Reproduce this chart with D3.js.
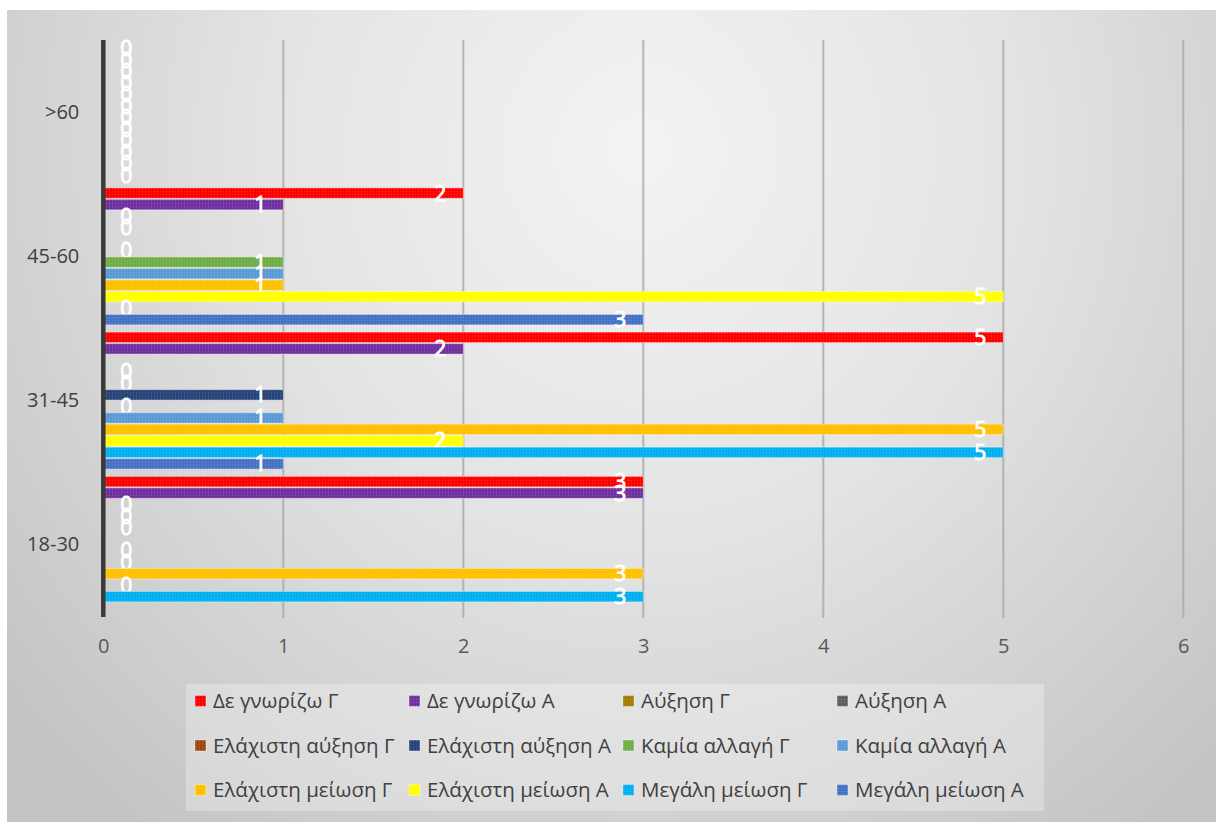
<!DOCTYPE html>
<html>
<head>
<meta charset="utf-8">
<script src="https://cdn.jsdelivr.net/npm/d3@7"></script>
<style>
  html, body { margin: 0; padding: 0; background: #ffffff; }
  svg { display: block; }
  text { font-family: "Open Sans", "Noto Sans", sans-serif; }
</style>
</head>
<body>
<svg id="chart" width="1216" height="822"></svg>
<script>
// Age groups, bottom to top on the chart
const categories = ["18-30", "31-45", "45-60", ">60"];

// Series, top to bottom inside each age group (also legend order)
const seriesNames = [
  "Δε γνωρίζω Γ", "Δε γνωρίζω Α",
  "Αύξηση Γ", "Αύξηση Α",
  "Ελάχιστη αύξηση Γ", "Ελάχιστη αύξηση Α",
  "Καμία αλλαγή Γ", "Καμία αλλαγή Α",
  "Ελάχιστη μείωση Γ", "Ελάχιστη μείωση Α",
  "Μεγάλη μείωση Γ", "Μεγάλη μείωση Α"
];

const seriesColors = [
  "#ff0000", "#7030a0",
  "#a07c00", "#5f5f5f",
  "#9e480e", "#264478",
  "#70ad47", "#5b9bd5",
  "#ffc000", "#ffff00",
  "#00b0f0", "#4472c4"
];

// Counts per series, in the order of `categories` (null = no entry)
const deGnorizoG       = [3, 5, 2, 0];
const deGnorizoA       = [3, 2, 1, 0];
const afxisiG          = [0, null, 0, 0];
const afxisiA          = [0, 0, 0, 0];
const elaxAfxisiG      = [0, 0, null, 0];
const elaxAfxisiA      = [null, 1, 0, 0];
const kamiaAllagiG     = [0, 0, 1, 0];
const kamiaAllagiA     = [0, 1, 1, 0];
const elaxMeiosiG      = [3, 5, 1, 0];
const elaxMeiosiA      = [0, 2, 5, 0];
const megaliMeiosiG    = [3, 5, 0, 0];
const megaliMeiosiA    = [null, 1, 3, 0];

const seriesValues = [
  deGnorizoG, deGnorizoA, afxisiG, afxisiA, elaxAfxisiG, elaxAfxisiA,
  kamiaAllagiG, kamiaAllagiA, elaxMeiosiG, elaxMeiosiA, megaliMeiosiG, megaliMeiosiA
];

const xTicks = [0, 1, 2, 3, 4, 5, 6];

const svg = d3.select("#chart");
const defs = svg.append("defs");

// Chart area background
const bg = defs.append("radialGradient")
  .attr("id", "bgGrad")
  .attr("gradientUnits", "userSpaceOnUse")
  .attr("cx", 640).attr("cy", 150).attr("r", 820)
  .attr("gradientTransform", "translate(640,150) scale(1,1.05) translate(-640,-150)");
bg.append("stop").attr("offset", "0").attr("stop-color", "#f3f3f3");
bg.append("stop").attr("offset", "0.45").attr("stop-color", "#e4e4e4");
bg.append("stop").attr("offset", "1").attr("stop-color", "#c4c4c4");

svg.append("rect")
  .attr("x", 7).attr("y", 10)
  .attr("width", 1209).attr("height", 812)
  .attr("fill", "url(#bgGrad)");

// Textured fill for each series
seriesColors.forEach((c, i) => {
  const p = defs.append("pattern")
    .attr("id", "pat" + i)
    .attr("patternUnits", "userSpaceOnUse")
    .attr("width", 3).attr("height", 3);
  p.append("rect").attr("width", 3).attr("height", 3).attr("fill", c);
  p.append("rect").attr("x", 1).attr("y", 1).attr("width", 1).attr("height", 1)
    .attr("fill", "#ffffff").attr("opacity", 0.22);
});

const plot = { left: 103.3, right: 1183.3, top: 40, bottom: 617 };

const x = d3.scaleLinear().domain([0, 6]).range([plot.left, plot.right]);

const y0 = d3.scaleBand()
  .domain(categories.slice().reverse())
  .range([plot.top, plot.bottom])
  .paddingInner(0).paddingOuter(0);

const groupPad = 3.1;
const y1 = d3.scaleBand()
  .domain(seriesNames)
  .range([groupPad, y0.bandwidth() - groupPad]);

// Vertical gridlines
svg.append("g")
  .selectAll("line")
  .data(xTicks.filter(t => t > 0))
  .join("line")
  .attr("x1", d => x(d)).attr("x2", d => x(d))
  .attr("y1", plot.top).attr("y2", plot.bottom + 1)
  .attr("stroke", "#a9a9a9")
  .attr("stroke-width", 2)
  .attr("opacity", 0.8);

// Bars
const barH = y1.bandwidth() - 1;
const groups = svg.append("g")
  .selectAll("g")
  .data(categories)
  .join("g")
  .attr("transform", d => `translate(0,${y0(d)})`);

const cells = groups.selectAll("g.cell")
  .data((cat, ci) => seriesNames.map((s, si) => ({ cat, s, si, v: seriesValues[si][ci] })))
  .join("g")
  .attr("class", "cell");

cells.filter(d => d.v !== null && d.v > 0)
  .append("rect")
  .attr("x", x(0))
  .attr("y", d => y1(d.s) + (y1.bandwidth() - barH) / 2)
  .attr("width", d => x(d.v) - x(0))
  .attr("height", barH)
  .attr("fill", d => `url(#pat${d.si})`)
  .attr("stroke", "#ffffff")
  .attr("stroke-opacity", 0.4)
  .attr("stroke-width", 1);

// Value labels
cells.filter(d => d.v !== null)
  .append("text")
  .attr("x", d => d.v > 0 ? x(d.v) - 17 : x(0) + 17)
  .attr("y", d => y1(d.s) + y1.bandwidth() / 2)
  .attr("dy", "0.36em")
  .attr("text-anchor", d => d.v > 0 ? "end" : "start")
  .attr("fill", "#ffffff")
  .attr("stroke", "#ffffff")
  .attr("stroke-width", 0.9)
  .attr("font-size", 21)
  .text(d => d.v);

// Category axis
const yAxis = svg.append("g")
  .attr("transform", `translate(${plot.left},0)`)
  .call(d3.axisLeft(y0).tickSize(0).tickPadding(24));
yAxis.select(".domain").remove();
yAxis.selectAll("text")
  .attr("font-size", 20)
  .attr("fill", "#404040")
  .attr("font-family", "\"Open Sans\", \"Noto Sans\", sans-serif");

// Axis line at zero
svg.append("line")
  .attr("x1", x(0)).attr("x2", x(0))
  .attr("y1", plot.top).attr("y2", plot.bottom)
  .attr("stroke", "#3a3a3a")
  .attr("stroke-width", 4.5);

// Value axis labels
const xAxis = svg.append("g")
  .attr("transform", `translate(0,${plot.bottom})`)
  .call(d3.axisBottom(x).tickValues(xTicks).tickSize(0).tickPadding(22).tickFormat(d3.format("d")));
xAxis.select(".domain").remove();
xAxis.selectAll("text")
  .attr("font-size", 20)
  .attr("fill", "#595959")
  .attr("font-family", "\"Open Sans\", \"Noto Sans\", sans-serif");

// Legend
svg.append("rect")
  .attr("x", 186).attr("y", 684)
  .attr("width", 858).attr("height", 127)
  .attr("fill", "#ffffff").attr("opacity", 0.28);

const legendCols = 4;
const legend = svg.append("g")
  .selectAll("g")
  .data(seriesNames)
  .join("g")
  .attr("transform", (d, i) => `translate(${195 + (i % legendCols) * 214},${701 + Math.floor(i / legendCols) * 44.5})`);

legend.append("rect")
  .attr("x", 0).attr("y", -5.5)
  .attr("width", 11).attr("height", 11)
  .attr("fill", (d, i) => `url(#pat${i})`)
  .attr("stroke", "#ffffff").attr("stroke-opacity", 0.35);

legend.append("text")
  .attr("x", 18)
  .attr("y", 0)
  .attr("dy", "0.36em")
  .attr("font-size", 20.5)
  .attr("fill", "#404040")
  .text(d => d);
</script>
</body>
</html>
